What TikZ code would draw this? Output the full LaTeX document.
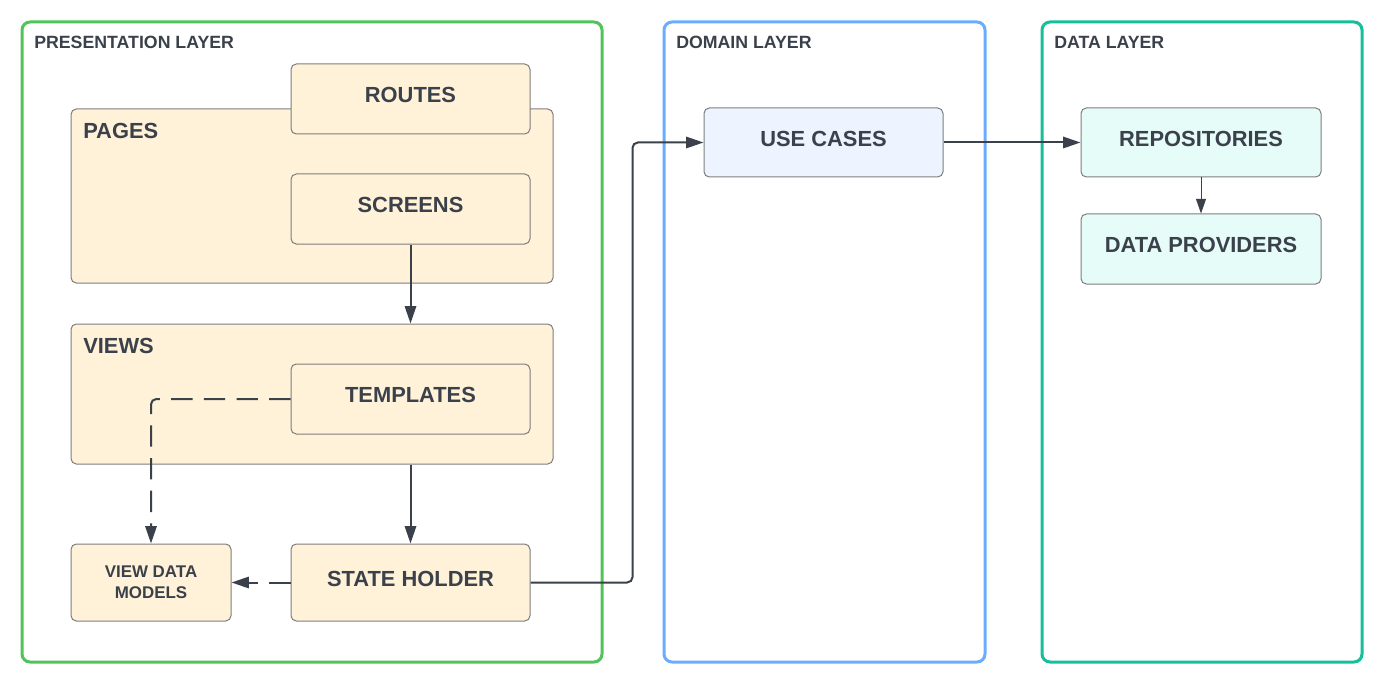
\documentclass[tikz,border=0pt]{standalone}
\usepackage{fontspec}
\setmainfont{Liberation Sans}
\usetikzlibrary{arrows.meta}

\definecolor{ink}{HTML}{3A414A}
\definecolor{edge}{HTML}{7E7E7E}
\definecolor{cream}{HTML}{FFF2D9}
\definecolor{paleblue}{HTML}{EDF4FF}
\definecolor{palecyan}{HTML}{E6FCF8}
\definecolor{presgreen}{HTML}{50C35A}
\definecolor{domblue}{HTML}{6AADFF}
\definecolor{datateal}{HTML}{14BF9C}

\begin{document}
\begin{tikzpicture}[x=0.75pt, y=-0.75pt,
    layerbox/.style={draw, line width=2.25pt, rounded corners=6pt, minimum height=480pt},
    layertitle/.style={anchor=west, text=ink, font=\fontsize{13.3}{15}\selectfont\bfseries, inner sep=0pt},
    groupbox/.style={draw=edge, fill=cream, line width=0.75pt, rounded corners=4pt, minimum width=361.5pt},
    grouptitle/.style={anchor=west, text=ink, font=\fontsize{16.4}{19}\selectfont\bfseries, inner sep=0pt},
    box/.style={draw=edge, fill=cream, line width=0.75pt, rounded corners=4pt, text=ink,
        minimum width=179.25pt, minimum height=52.5pt, text depth=5.5pt,
        font=\fontsize{16.4}{19}\selectfont\bfseries},
    conn/.style={draw=ink, line width=1.5pt, -{Triangle[length=13pt,width=8.5pt]}},
    dashconn/.style={conn, dash pattern=on 16pt off 8.5pt}]
    \useasboundingbox (0,0) rectangle (1383,684);

    % layers
    \node [layerbox, draw=presgreen, minimum width=435pt] (pres) at (312,342) {};
    \node [layerbox, draw=domblue, minimum width=240.75pt] (domain) at (824.5,342) {};
    \node [layerbox, draw=datateal, minimum width=240pt] (data) at (1202,342) {};
    \node [layertitle] (presTitle) at (34,42.5) {PRESENTATION LAYER};
    \node [layertitle] (domainTitle) at (676,42.5) {DOMAIN LAYER};
    \node [layertitle] (dataTitle) at (1054,42.5) {DATA LAYER};

    % presentation layer
    \node [groupbox, minimum height=130.5pt] (pages) at (312,196) {};
    \node [grouptitle] (pagesTitle) at (83,131) {PAGES};
    \node [box] (routes) at (410.5,99) {ROUTES};
    \node [box] (screens) at (410.5,209) {SCREENS};
    \node [groupbox, minimum height=105pt] (views) at (312,394) {};
    \node [grouptitle] (viewsTitle) at (83,346) {VIEWS};
    \node [box] (templates) at (410.5,399) {TEMPLATES};
    \node [box, minimum height=57.75pt] (stateholder) at (410.5,582.5) {STATE HOLDER};
    \node [box, minimum width=120pt, minimum height=57.75pt, text depth=0pt, align=center,
        font=\fontsize{12.7}{15.75}\selectfont\bfseries] (vdm) at (151,582.5) {VIEW DATA\\MODELS};

    % domain and data layers
    \node [box, fill=paleblue, minimum height=51.75pt] (usecases) at (823.5,142.5) {USE CASES};
    \node [box, fill=palecyan, minimum width=180pt, minimum height=51.75pt] (repos) at (1201,142.5) {REPOSITORIES};
    \node [box, fill=palecyan, minimum width=180pt] (providers) at (1201,249) {DATA PROVIDERS};

    % connectors
    \draw [conn] (screens.south) -- (screens.south |- views.north);
    \draw [conn] (views.south -| stateholder.north) -- (stateholder.north);
    \draw [dashconn, rounded corners=4pt] (templates.west) -| (vdm.north);
    \draw [dashconn] (stateholder.west) -- (vdm.east);
    \draw [conn, rounded corners=4pt] (stateholder.east) -- ++(102,0) |- (usecases.west);
    \draw [conn] (usecases.east) -- (repos.west);
    \draw [draw=ink, line width=0.75pt, -{Triangle[length=11pt,width=7.5pt]}] (repos.south) -- (providers.north);
\end{tikzpicture}
\end{document}
